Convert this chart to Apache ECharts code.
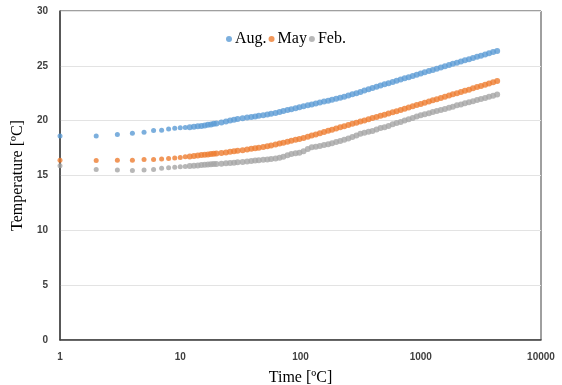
<!DOCTYPE html>
<html>
<head>
<meta charset="utf-8">
<script src="https://cdn.jsdelivr.net/npm/echarts@6/dist/echarts.min.js"></script>
<style>
  html, body { margin: 0; padding: 0; background: #fff; }
  #chart { width: 562px; height: 385px; }
</style>
</head>
<body>
<div id="chart"></div>
<script>
// time stamps (log axis)
const times = [
  1, 2, 3, 4, 5, 6, 7, 8, 9, 10, 11, 12, 13, 14, 15, 16, 17, 18, 19,
  20, 22, 24, 26, 28, 30, 33, 36, 39, 42, 45, 49, 53, 57, 62, 67, 72, 78, 84, 91,
  98, 106, 115, 124, 134, 145, 157, 170, 183, 198, 214, 231, 250, 270, 292, 315,
  340, 368, 397, 429, 463, 500, 540, 584, 630, 681, 735, 794, 858, 926,
  1000, 1080, 1170, 1260, 1360, 1470, 1590, 1720, 1850, 2000, 2160, 2330, 2520,
  2720, 2940, 3170, 3430, 3700, 4000, 4320
];

const aug = [
  18.6, 18.6, 18.75, 18.85, 18.95, 19.1, 19.12, 19.25, 19.3, 19.35, 19.38, 19.4, 19.44, 19.48, 19.52, 19.57, 19.62, 19.66, 19.71,
  19.75, 19.84, 19.93, 20.01, 20.08, 20.15, 20.22, 20.28, 20.34, 20.39, 20.44, 20.5, 20.56, 20.62, 20.71, 20.8, 20.88, 20.97, 21.05, 21.14,
  21.23, 21.31, 21.4, 21.48, 21.57, 21.65, 21.74, 21.82, 21.9, 21.99, 22.08, 22.18, 22.29, 22.4, 22.51, 22.62,
  22.75, 22.87, 22.98, 23.09, 23.2, 23.31, 23.42, 23.53, 23.64, 23.75, 23.86, 23.97, 24.08, 24.19,
  24.3, 24.41, 24.52, 24.63, 24.74, 24.85, 24.96, 25.08, 25.18, 25.29, 25.4, 25.5, 25.61,
  25.72, 25.83, 25.93, 26.04, 26.15, 26.26, 26.36
];

const may = [
  16.4, 16.36, 16.38, 16.4, 16.45, 16.45, 16.5, 16.55, 16.6, 16.65, 16.7, 16.74, 16.78, 16.82, 16.86, 16.89, 16.92, 16.95, 16.98,
  17.0, 17.05, 17.1, 17.16, 17.21, 17.25, 17.31, 17.37, 17.43, 17.49, 17.54, 17.61, 17.67, 17.73, 17.82, 17.91, 17.99, 18.08, 18.16, 18.25,
  18.33, 18.43, 18.54, 18.64, 18.75, 18.86, 18.97, 19.08, 19.18, 19.29, 19.39, 19.5, 19.6, 19.71, 19.81, 19.92,
  20.02, 20.13, 20.24, 20.34, 20.45, 20.55, 20.66, 20.77, 20.87, 20.98, 21.09, 21.2, 21.31, 21.42,
  21.53, 21.64, 21.75, 21.86, 21.96, 22.07, 22.18, 22.29, 22.4, 22.5, 22.61, 22.72, 22.83,
  22.95, 23.06, 23.17, 23.28, 23.39, 23.51, 23.62
];

const feb = [
  15.9, 15.55, 15.5, 15.45, 15.5, 15.55, 15.65, 15.7, 15.75, 15.8, 15.83, 15.86, 15.89, 15.92, 15.95, 15.98, 16.0, 16.02, 16.04,
  16.05, 16.08, 16.11, 16.14, 16.17, 16.2, 16.24, 16.28, 16.32, 16.36, 16.39, 16.43, 16.47, 16.51, 16.56, 16.62, 16.7, 16.85, 16.97, 17.02,
  17.08, 17.22, 17.42, 17.57, 17.63, 17.7, 17.78, 17.86, 17.95, 18.05, 18.15, 18.25, 18.38, 18.5, 18.65, 18.8,
  18.9, 18.98, 19.05, 19.2, 19.32, 19.4, 19.52, 19.68, 19.78, 19.88, 20.02, 20.13, 20.24, 20.37,
  20.5, 20.58, 20.68, 20.78, 20.88, 20.97, 21.07, 21.18, 21.28, 21.4, 21.48, 21.58, 21.68,
  21.78, 21.88, 21.97, 22.07, 22.17, 22.28, 22.38
];

const seriesNames = ["Aug.", "May", "Feb."];
const seriesColors = ["#5B9BD5", "#ED7D31", "#A5A5A5"];
const seriesValues = [aug, may, feb];

const serif = "'Liberation Serif', 'Times New Roman', serif";
const sans = "'Liberation Sans', Arial, sans-serif";

const chart = echarts.init(document.getElementById("chart"), null, { renderer: "canvas" });
chart.setOption({
  animation: false,
  backgroundColor: "#fff",
  grid: {
    left: 60, right: 21, top: 11, bottom: 45,
    outerBoundsMode: "none", containLabel: false,
    show: true, borderColor: "#404040", borderWidth: 1
  },
  legend: {
    left: 221, top: 26,
    icon: "circle", itemWidth: 6, itemHeight: 6, itemGap: 2,
    textStyle: { fontFamily: serif, fontSize: 16, color: "#000", padding: [0, 0, 0, -2] },
    data: seriesNames
  },
  xAxis: {
    type: "log", logBase: 10, min: 1, max: 10000,
    name: "Time [ºC]", nameLocation: "middle", nameGap: 30,
    nameTextStyle: { fontFamily: serif, fontSize: 16, color: "#000" },
    axisLine: { lineStyle: { color: "#404040", width: 1.5 } },
    axisTick: { show: false },
    splitLine: { show: false },
    minorSplitLine: { show: false },
    axisLabel: {
      fontFamily: sans, fontWeight: "bold", fontSize: 10, color: "#404040", margin: 12,
      formatter: (v) => String(Math.round(v))
    }
  },
  yAxis: {
    type: "value", min: 0, max: 30, interval: 5,
    name: "Temperature [ºC]", nameLocation: "middle", nameGap: 33,
    nameTextStyle: { fontFamily: serif, fontSize: 16, color: "#000" },
    axisLine: { show: true, lineStyle: { color: "#404040", width: 1.5 } },
    axisTick: { show: false },
    splitLine: { lineStyle: { color: "#e3e3e3", width: 1 } },
    axisLabel: { fontFamily: sans, fontWeight: "bold", fontSize: 10, color: "#404040", margin: 12 }
  },
  series: seriesNames.map((name, i) => ({
    name,
    type: "scatter",
    symbol: "circle",
    symbolSize: (val) => (val[0] < 12 ? 5 : 6),
    itemStyle: { color: seriesColors[i] },
    data: times.map((t, j) => [t, seriesValues[i][j]])
  }))
});
</script>
</body>
</html>
